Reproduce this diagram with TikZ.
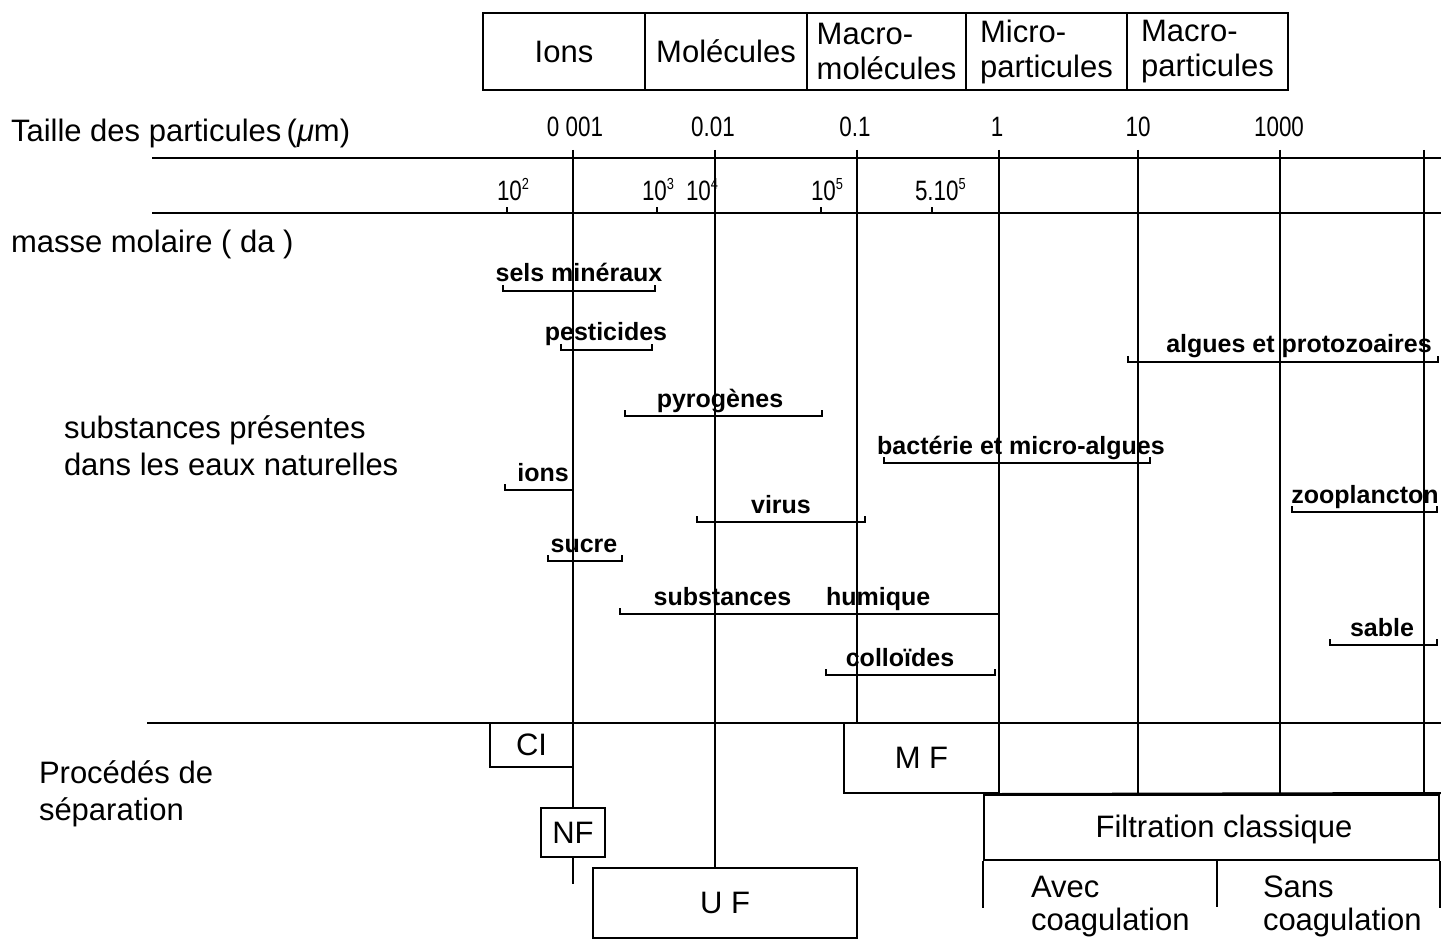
\documentclass[tikz,border=0pt]{standalone}
\usepackage{fontspec}
\setmainfont{Liberation Sans}
\newcommand\spx[1]{\raisebox{11pt}{\fontsize{16}{16}\selectfont #1}}
\newcommand\nmx[1]{\scalebox{0.8}[1]{#1}}
\begin{document}
\begin{tikzpicture}[x=1pt,y=-1pt,line width=2pt,
  lbl/.style={font=\fontsize{31}{35}\selectfont, inner sep=0pt},
  num/.style={font=\fontsize{28}{30}\selectfont, inner sep=0pt},
  sub/.style={font=\bfseries\fontsize{25}{28}\selectfont, inner sep=0pt},
  cell/.style={draw, line width=2pt, inner sep=0pt, font=\fontsize{31}{35}\selectfont, align=left},
  rule/.style={line width=2pt},
  brk/.style={line width=2pt}]
\fill[white] (0,0) rectangle (1441,941);
\useasboundingbox (0,0) rectangle (1441,941);

% categories
\node[cell, minimum width=162pt, minimum height=77pt] (cIons) at (564,51.5) {Ions};
\node[cell, minimum width=162pt, minimum height=77pt] (cMol) at (726,51.5) {Molécules};
\node[cell, minimum width=159pt, minimum height=77pt] (cMacM) at (886.5,51.5) {Macro-\\molécules};
\node[cell, minimum width=161pt, minimum height=77pt] (cMicP) at (1046.5,51.5) {Micro-\\particules};
\node[cell, minimum width=161pt, minimum height=77pt] (cMacP) at (1207.5,51.5) {Macro-\\particules};

% left labels
\node[lbl, anchor=base west] (taille) at (10,142) {Taille des particules\,(\textit{μ}m)};
\node[lbl, anchor=base west] (masse) at (10,253) {masse molaire ( da )};
\node[lbl, anchor=base west] (subst1) at (63,438) {substances présentes};
\node[lbl, anchor=base west] (subst2) at (63,475) {dans les eaux naturelles};
\node[lbl, anchor=base west] (proc1) at (38,783) {Procédés de};
\node[lbl, anchor=base west] (proc2) at (38,820) {séparation};

% size scale
\node[num, anchor=base] (t1) at (575,137) {\nmx{0 001}};
\node[num, anchor=base] (t2) at (713,137) {\nmx{0.01}};
\node[num, anchor=base] (t3) at (855,137) {\nmx{0.1}};
\node[num, anchor=base] (t4) at (997,137) {\nmx{1}};
\node[num, anchor=base] (t5) at (1138,137) {\nmx{10}};
\node[num, anchor=base] (t6) at (1279,137) {\nmx{1000}};

% molar mass scale
\node[num, anchor=base west] (m1) at (496,201) {\nmx{10\spx{2}}};
\node[num, anchor=base west] (m2) at (641,201) {\nmx{10\spx{3}}};
\node[num, anchor=base west] (m3) at (685,201) {\nmx{10\spx{4}}};
\node[num, anchor=base west] (m4) at (810,201) {\nmx{10\spx{5}}};
\node[num, anchor=base west] (m5) at (914,201) {\nmx{5.10\spx{5}}};

% horizontal rules
\coordinate (a1) at (152,158); \coordinate (b1) at (1441,158);
\coordinate (a2) at (152,213); \coordinate (b2) at (1441,213);
\coordinate (a3) at (147,723); \coordinate (b3) at (1441,723);
\draw[rule] (a1) -- (b1);
\draw[rule] (a2) -- (b2);
\draw[rule] (a3) -- (b3);
\foreach \x in {507,657,821,932} \draw[rule] (\x,213) -- (\x,207);

% separation processes
\node[cell, minimum width=83pt, minimum height=44pt, align=center] (CI) at (531.5,745) {CI};
\node[cell, minimum width=64pt, minimum height=49pt, align=center] (NF) at (573,832.5) {NF};
\node[cell, minimum width=264pt, minimum height=70pt, align=center] (UF) at (725,903) {U F};
\node[cell, minimum width=155pt, minimum height=70pt, align=center] (MF) at (921.5,758) {M F};
\node[cell, minimum width=455pt, minimum height=65pt] (FC) at (1211.5,827.5) {};
\node[lbl] (FCt) at (1224,829) {Filtration classique};
\coordinate (fcdiv) at (1217,860);
\draw[rule] (FC.south west) -- ++(0,47);
\draw[rule] (fcdiv) -- ++(0,47);
\draw[rule] (FC.south east) -- ++(0,47);
\draw[rule] (MF.south east) -- (1441,793);
\node[lbl, anchor=base west] (avec1) at (1030,897) {Avec};
\node[lbl, anchor=base west] (avec2) at (1030,930) {coagulation};
\node[lbl, anchor=base west] (sans1) at (1262,897) {Sans};
\node[lbl, anchor=base west] (sans2) at (1262,930) {coagulation};

% vertical lines
\foreach \n/\x in {1/573,2/715,3/857,4/999,5/1138,6/1280,7/1424} \coordinate (v\n) at (\x,150);
\draw[rule] (v1) -- (v1 |- NF.north);
\draw[rule] (NF.south) -- ++(0,26);
\draw[rule] (v2) -- (v2 |- UF.north);
\draw[rule] (v3) -- (v3 |- a3);
\draw[rule] (v4) -- (v4 |- a3);
\draw[rule] (v5) -- (v5 |- FC.north);
\draw[rule] (v6) -- (v6 |- FC.north);
\draw[rule] (v7) -- (v7 |- FC.north);

% substances
\foreach \a/\b/\y/\c/\t [count=\i] in {
  503/655/291/579/sels minéraux,
  561/652/350/606/pesticides,
  625/822/416/720/pyrogènes,
  1128/1438/362/1299/algues et protozoaires,
  884/1150/463/1021/bactérie et micro-algues,
  505/573/490/543/ions,
  697/865/522/781/virus,
  1292/1437/512/1365/zooplancton,
  548/622/561/584/sucre,
  620/999/614/792/{substances\hspace{35pt}humique},
  826/995/675/900/colloïdes,
  1330/1437/645/1382/sable} {
  \draw[brk] (\a,\y-6) -- (\a,\y) -- (\b,\y) -- (\b,\y-6);
  \node[sub, anchor=base] (s\i) at (\c,\y-9) {\t};
}
\end{tikzpicture}
\end{document}
